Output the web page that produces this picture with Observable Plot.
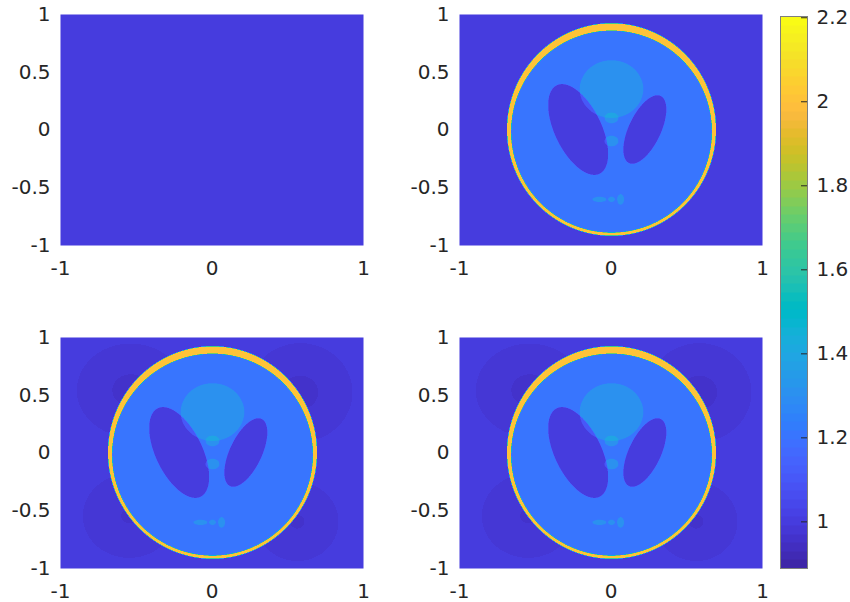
<!DOCTYPE html>
<html>
<head>
<meta charset="utf-8">
<script src="https://cdn.jsdelivr.net/npm/d3@7"></script>
<script src="https://cdn.jsdelivr.net/npm/@observablehq/plot@0.6"></script>
<style>
  html, body { margin: 0; padding: 0; background: #ffffff; }
  #wrap { position: relative; width: 850px; height: 602px; overflow: hidden; background: #ffffff; }
  .cell { position: absolute; }
</style>
</head>
<body>
<div id="wrap"></div>
<script>
// ---------------- data ----------------
// Modified Shepp-Logan phantom ellipses (on a base level of 1)
const baseLevel = 1;
const ellA   = [1, -0.8, -0.2, -0.2, 0.1, 0.1, 0.1, 0.1, 0.1, 0.1];
const ellAx  = [0.69, 0.6624, 0.11, 0.16, 0.21, 0.046, 0.046, 0.046, 0.023, 0.023];
const ellBy  = [0.92, 0.874, 0.31, 0.41, 0.25, 0.046, 0.046, 0.023, 0.023, 0.046];
const ellX0  = [0, 0, 0.22, -0.22, 0, 0, 0, -0.08, 0, 0.06];
const ellY0  = [0, -0.0184, 0, 0, 0.35, 0.1, -0.1, -0.605, -0.605, -0.605];
const ellPhi = [0, 0, -18, 18, 0, 0, 0, 0, 0, 0];

// faint reconstruction artifacts outside the skull (bottom panels)
const artX0  = [-0.54, 0.58, -0.55, 0.56];
const artY0  = [0.54, 0.52, -0.55, -0.6];
const artAx  = [0.3, 0.29, 0.27, 0.24];
const artBy  = [0.34, 0.36, 0.32, 0.3];
const artAmp = [-0.034, -0.034, -0.03, -0.03];

// panels: 0 = initial guess, 1 = true phantom, 2 = reconstruction
const panelKinds = [0, 1, 2, 2];

// ticks and colour range
const xTicks = [-1, 0, 1];
const yTicks = [-1, -0.5, 0, 0.5, 1];
const cbTicks = [1, 1.2, 1.4, 1.6, 1.8, 2, 2.2];
const cbDomain = [0.889, 2.203];

// parula (64)
const parula = [
[0.2422,0.1504,0.6603],[0.2504,0.1650,0.7076],[0.2578,0.1818,0.7511],[0.2647,0.1978,0.7952],
[0.2706,0.2147,0.8364],[0.2751,0.2342,0.8710],[0.2783,0.2559,0.8991],[0.2803,0.2782,0.9221],
[0.2813,0.3006,0.9414],[0.2810,0.3228,0.9579],[0.2795,0.3447,0.9717],[0.2760,0.3667,0.9829],
[0.2699,0.3892,0.9906],[0.2602,0.4123,0.9952],[0.2440,0.4358,0.9988],[0.2206,0.4603,0.9973],
[0.1963,0.4847,0.9892],[0.1834,0.5074,0.9798],[0.1786,0.5289,0.9682],[0.1764,0.5499,0.9520],
[0.1687,0.5703,0.9359],[0.1540,0.5902,0.9218],[0.1460,0.6091,0.9079],[0.1380,0.6276,0.8973],
[0.1248,0.6459,0.8883],[0.1113,0.6635,0.8763],[0.0952,0.6798,0.8598],[0.0689,0.6948,0.8394],
[0.0297,0.7082,0.8163],[0.0036,0.7203,0.7917],[0.0067,0.7312,0.7660],[0.0433,0.7411,0.7394],
[0.0964,0.7500,0.7120],[0.1408,0.7584,0.6842],[0.1717,0.7670,0.6554],[0.1938,0.7758,0.6251],
[0.2161,0.7843,0.5923],[0.2470,0.7918,0.5567],[0.2906,0.7973,0.5188],[0.3406,0.8008,0.4789],
[0.3909,0.8029,0.4354],[0.4456,0.8024,0.3909],[0.5044,0.7993,0.3480],[0.5616,0.7942,0.3045],
[0.6174,0.7876,0.2612],[0.6720,0.7793,0.2227],[0.7242,0.7698,0.1910],[0.7738,0.7598,0.1646],
[0.8203,0.7498,0.1535],[0.8634,0.7406,0.1596],[0.9035,0.7330,0.1774],[0.9393,0.7288,0.2100],
[0.9728,0.7298,0.2394],[0.9956,0.7434,0.2371],[0.9970,0.7659,0.2199],[0.9952,0.7893,0.2028],
[0.9892,0.8136,0.1885],[0.9786,0.8386,0.1766],[0.9676,0.8639,0.1643],[0.9610,0.8890,0.1537],
[0.9597,0.9135,0.1423],[0.9628,0.9373,0.1265],[0.9691,0.9606,0.1064],[0.9769,0.9839,0.0805]
].map(c => d3.rgb(c[0]*255, c[1]*255, c[2]*255).formatHex());

// ---------------- helpers ----------------
function ellipseSum(x, y) {
  let v = 0;
  for (let k = 0; k < ellA.length; k++) {
    const t = ellPhi[k] * Math.PI / 180, c = Math.cos(t), s = Math.sin(t);
    const dx = x - ellX0[k], dy = y - ellY0[k];
    const u = dx * c + dy * s, w = -dx * s + dy * c;
    if ((u / ellAx[k]) ** 2 + (w / ellBy[k]) ** 2 <= 1) v += ellA[k];
  }
  return v;
}
function insideSkull(x, y) {
  return ((x - ellX0[0]) / ellAx[0]) ** 2 + ((y - ellY0[0]) / ellBy[0]) ** 2 <= 1;
}
function artifact(x, y) {
  let v = 0;
  for (let k = 0; k < artAmp.length; k++) {
    v += artAmp[k] * Math.exp(-(((x - artX0[k]) / artAx[k]) ** 2 + ((y - artY0[k]) / artBy[k]) ** 2));
  }
  return v;
}
function sample(kind, x, y) {
  if (kind === 0) return baseLevel;
  let v = baseLevel + ellipseSum(x, y);
  if (kind === 2 && !insideSkull(x, y)) v += artifact(x, y);
  return v;
}
// screen-resolution raster (303 x 231 px) with 3x3 supersampling per pixel
const PW = 303, PH = 231;
function cellFn(kind) {
  const hx = 2 / PW, hy = 2 / PH;
  return (x, y) => {
    let s = 0;
    for (let i = -1; i <= 1; i++) for (let j = -1; j <= 1; j++) s += sample(kind, x + i * hx / 3, y + j * hy / 3);
    return s / 9;
  };
}
const fmt = d => String(d);
const colorOpts = {type: "quantize", domain: cbDomain, range: parula};
const textStyle = {fontFamily: "'DejaVu Sans', sans-serif", fontSize: "20px", color: "#262626", background: "none", overflow: "visible"};

function panel(kind) {
  return Plot.plot({
    width: 400, height: 280,
    marginLeft: 60, marginRight: 37, marginTop: 14, marginBottom: 35,
    style: textStyle,
    x: {domain: [-1, 1], ticks: xTicks, tickSize: 0, tickPadding: 15, tickFormat: fmt, label: null},
    y: {domain: [-1, 1], ticks: yTicks, tickSize: 0, tickPadding: 10, tickFormat: fmt, label: null},
    color: colorOpts,
    marks: [
      Plot.raster({x1: -1, x2: 1, y1: -1, y2: 1, width: PW, height: PH, fill: cellFn(kind), imageRendering: "pixelated"})
    ]
  });
}

const wrap = document.getElementById("wrap");
const pos = [[0, 0], [399, 0], [0, 323], [399, 323]];
panelKinds.forEach((k, i) => {
  const d = document.createElement("div");
  d.className = "cell";
  d.style.left = pos[i][0] + "px";
  d.style.top = pos[i][1] + "px";
  d.appendChild(panel(k));
  wrap.appendChild(d);
});

// colour bar
const cb = Plot.plot({
  width: 110, height: 602,
  marginLeft: 40, marginRight: 43, marginTop: 16, marginBottom: 34,
  style: textStyle,
  x: {domain: [0, 1], axis: null},
  y: {domain: cbDomain, axis: "right", ticks: cbTicks, tickSize: 0, tickPadding: 9, tickFormat: fmt, label: null},
  color: colorOpts,
  marks: [
    Plot.raster({x1: 0, x2: 1, y1: cbDomain[0], y2: cbDomain[1], fill: (x, y) => y}),
    Plot.ruleY(cbTicks, {y: d => d, x1: 1 - 6 / 27, x2: 1, stroke: "#262626", strokeWidth: 1}),
    Plot.frame({stroke: "#7f7f7f", strokeWidth: 1})
  ]
});
const cbd = document.createElement("div");
cbd.className = "cell";
cbd.style.left = "740px";
cbd.style.top = "0px";
cbd.appendChild(cb);
wrap.appendChild(cbd);
</script>
</body>
</html>
